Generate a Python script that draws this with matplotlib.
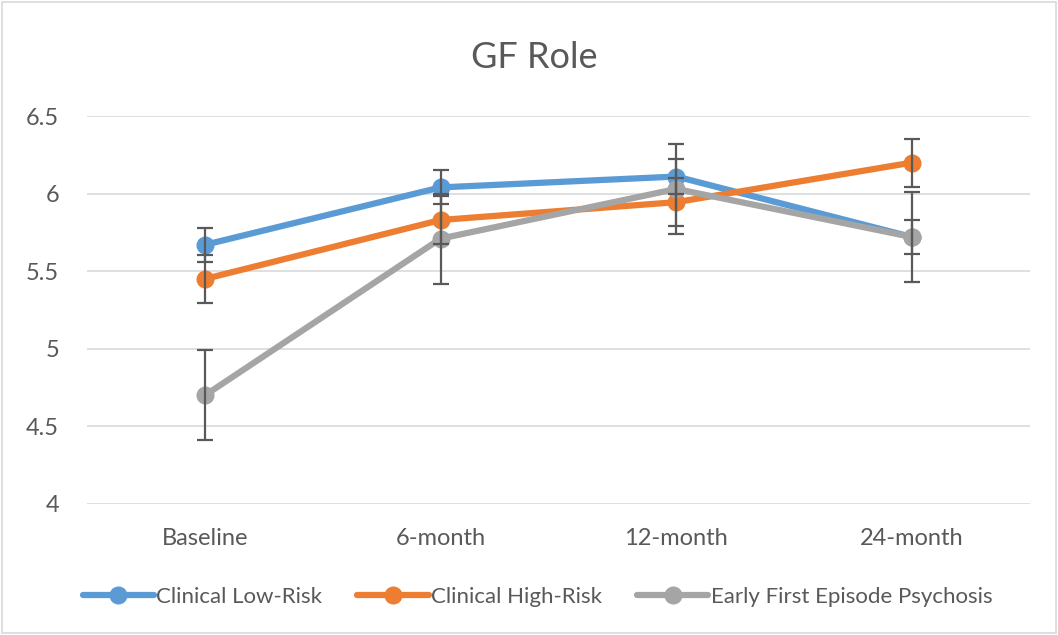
import matplotlib.pyplot as plt
from matplotlib.patches import Rectangle

plt.rcParams['font.family'] = ['Lato', 'DejaVu Sans']

timepoints = ['Baseline', '6-month', '12-month', '24-month']
series_names = ['Clinical Low-Risk', 'Clinical High-Risk', 'Early First Episode Psychosis']
low_risk = [5.67, 6.04, 6.11, 5.72]
high_risk = [5.45, 5.83, 5.945, 6.20]
first_episode = [4.70, 5.71, 6.03, 5.72]
low_risk_err = [0.11, 0.11, 0.11, 0.11]
high_risk_err = [0.155, 0.155, 0.155, 0.155]
first_episode_err = [0.29, 0.29, 0.29, 0.29]
colors = ['#5B9BD5', '#ED7D31', '#A5A5A5']

fig = plt.figure(figsize=(10.58, 6.35), dpi=100)
fig.patches.append(Rectangle((0.002, 0.003), 0.996, 0.994, transform=fig.transFigure,
                             fill=False, edgecolor='#D9D9D9', linewidth=1.2))
ax = fig.add_axes([0.0822, 0.2063, 0.8913, 0.611])

x = range(len(timepoints))
data = [low_risk, high_risk, first_episode]
errs = [low_risk_err, high_risk_err, first_episode_err]
for vals, err, name, c in zip(data, errs, series_names, colors):
    ax.plot(x, vals, color=c, linewidth=4.5, marker='o', markersize=12, label=name,
            solid_capstyle='round', zorder=3)
    ax.errorbar(x, vals, yerr=err, fmt='none', ecolor='#595959', elinewidth=1.6,
                capsize=5.5, capthick=1.6, zorder=4)

ax.set_xlim(-0.5, 3.5)
ax.set_ylim(4, 6.5)
ax.set_yticks([4, 4.5, 5, 5.5, 6, 6.5])
ax.set_yticklabels(['4', '4.5', '5', '5.5', '6', '6.5'])
ax.set_xticks(list(x))
ax.set_xticklabels(timepoints)
ax.tick_params(axis='both', length=0, labelsize=17, labelcolor='#595959')
ax.tick_params(axis='x', pad=17)
ax.tick_params(axis='y', pad=20)
ax.grid(axis='y', color='#D9D9D9', linewidth=1.2)
ax.set_axisbelow(True)
for s in ax.spines.values():
    s.set_visible(False)

fig.text(0.505, 0.91, 'GF Role', ha='center', va='center', fontsize=26, color='#595959')
fig.legend(loc='center', bbox_to_anchor=(0.508, 0.06), ncol=3, frameon=False,
           fontsize=16, labelcolor='#595959', handlelength=3.2, columnspacing=1.6,
           handletextpad=0.1)

fig.savefig('out.png', dpi=100)
